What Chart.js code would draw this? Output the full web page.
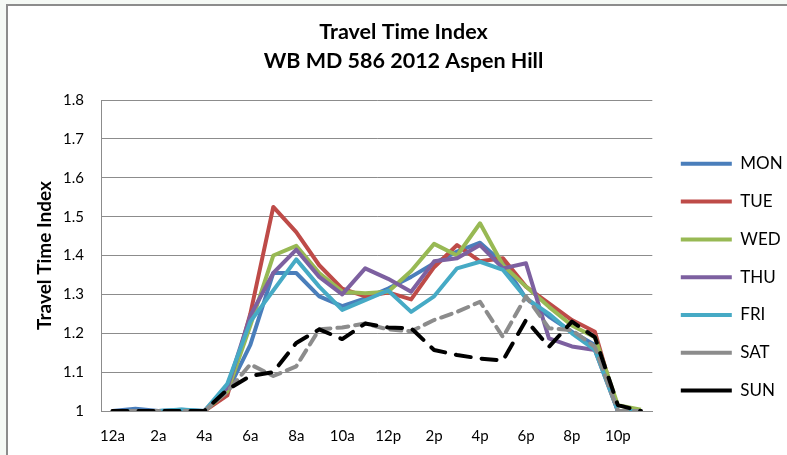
<!DOCTYPE html>
<html lang="en">
<head>
    <meta charset="UTF-8">
    <title>Travel Time Index</title>
    <style>
        *{
            margin:0;
            padding:0;
        }
        body{
            width: 787px;
            height: 455px;
            overflow: hidden;
            background: #f5f9f5;
            position: relative;
        }
        .frame{
            position: absolute;
            left: 6px;
            top: 4px;
            width: 900px;
            height: 600px;
            background: white;
            border-top: 2px solid #8c8c8c;
            border-left: 2px solid #8c8c8c;
        }
        #ttiChart{
            position: absolute;
            left: 0;
            top: 0;
        }
    </style>
</head>
<body>
    <div class="frame"></div>
    <canvas id="ttiChart" width="804" height="455"></canvas>
    <script src="https://cdn.jsdelivr.net/npm/chart.js@4.4.1/dist/chart.umd.min.js"></script>
    <script>
        const hours = ['12a','1a','2a','3a','4a','5a','6a','7a','8a','9a','10a','11a',
                       '12p','1p','2p','3p','4p','5p','6p','7p','8p','9p','10p','11p'];
        const days = ['MON', 'TUE', 'WED', 'THU', 'FRI', 'SAT', 'SUN'];

        const mon = [1.0, 1.006, 1.0, 1.003, 1.0, 1.05, 1.17, 1.355, 1.355, 1.295, 1.27, 1.29,
                     1.315, 1.345, 1.38, 1.41, 1.433, 1.38, 1.29, 1.243, 1.204, 1.17, 1.0, 1.0];
        const tue = [1.0, 1.0, 1.0, 1.0, 1.0, 1.04, 1.25, 1.525, 1.46, 1.375, 1.315, 1.295,
                     1.305, 1.287, 1.37, 1.427, 1.385, 1.393, 1.32, 1.277, 1.234, 1.204, 1.0, 1.0];
        const wed = [1.0, 1.0, 1.0, 1.0, 1.0, 1.05, 1.22, 1.40, 1.425, 1.355, 1.307, 1.303,
                     1.307, 1.36, 1.43, 1.40, 1.483, 1.375, 1.32, 1.268, 1.22, 1.19, 1.015, 1.003];
        const thu = [1.0, 1.0, 1.0, 1.0, 1.0, 1.06, 1.245, 1.355, 1.415, 1.345, 1.30, 1.367,
                     1.34, 1.307, 1.385, 1.393, 1.427, 1.367, 1.38, 1.187, 1.166, 1.157, 1.0, 1.0];
        const fri = [1.0, 1.0, 1.0, 1.004, 1.0, 1.07, 1.23, 1.31, 1.39, 1.32, 1.26, 1.285,
                     1.31, 1.255, 1.295, 1.367, 1.384, 1.363, 1.29, 1.25, 1.20, 1.157, 1.0, 1.0];
        const sat = [1.0, 1.0, 1.0, 1.0, 1.0, 1.05, 1.12, 1.09, 1.115, 1.21, 1.215, 1.225,
                     1.21, 1.205, 1.234, 1.255, 1.281, 1.19, 1.295, 1.213, 1.208, 1.165, 1.0, 1.0];
        const sun = [1.0, 1.0, 1.0, 1.0, 1.0, 1.055, 1.09, 1.10, 1.175, 1.21, 1.185, 1.225,
                     1.215, 1.213, 1.157, 1.144, 1.135, 1.13, 1.234, 1.165, 1.23, 1.19, 1.015, 1.0];

        const series = [mon, tue, wed, thu, fri, sat, sun];
        const colors = ['#4a7ebb', '#be4b48', '#98b954', '#7d60a0', '#46aac5', '#8c8c8c', '#000000'];
        const dashes = [[], [], [], [], [], [11, 7], [15, 11]];

        const font = "Lato, 'Open Sans', sans-serif";

        // move the legend box to where the original sits
        const legendPlace = {
            id: 'legendPlace',
            afterLayout(chart){
                const l = chart.legend;
                const w = l.right - l.left, h = l.bottom - l.top;
                l.left = 660; l.right = l.left + w;
                l.top = 134.5; l.bottom = l.top + h;
            }
        };

        const ctx = document.getElementById('ttiChart').getContext('2d');
        const chart = new Chart(ctx, {
            type: 'line',
            data: {
                labels: hours,
                datasets: days.map((d, i) => ({
                    label: d,
                    data: series[i],
                    borderColor: colors[i],
                    backgroundColor: colors[i],
                    borderWidth: 4,
                    borderDash: dashes[i],
                    borderCapStyle: dashes[i].length ? 'round' : 'butt',
                    borderJoinStyle: 'round',
                    pointRadius: 0,
                    tension: 0,
                    order: 7 - i,
                }))
            },
            options: {
                responsive: false,
                animation: false,
                layout: {padding: {left: 22, right: 19, top: 0, bottom: 0}},
                plugins: {
                    title: {
                        display: true,
                        text: ['Travel Time Index', 'WB MD 586 2012 Aspen Hill'],
                        color: '#000',
                        font: {family: font, size: 21.5, weight: 'bold', lineHeight: 1.35},
                        padding: {top: 17.5, bottom: 24.5},
                    },
                    legend: {
                        position: 'right',
                        align: 'start',
                        labels: {
                            usePointStyle: true,
                            pointStyle: 'line',
                            pointStyleWidth: 51,
                            padding: 20.8,
                            color: '#000',
                            font: {family: font, size: 17},
                            sort: (a, b) => a.datasetIndex - b.datasetIndex,
                        }
                    },
                    tooltip: {enabled: false},
                },
                scales: {
                    x: {
                        offset: true,
                        grid: {display: false, drawTicks: false},
                        border: {color: '#8c8c8c'},
                        ticks: {
                            autoSkip: false,
                            maxRotation: 0,
                            padding: 16,
                            color: '#000',
                            font: {family: font, size: 15},
                            callback: (v, i) => i % 2 === 0 ? hours[i] : '',
                        },
                        afterFit: s => { s.height = 44; },
                    },
                    y: {
                        min: 1,
                        max: 1.8,
                        grid: {color: '#8c8c8c', drawTicks: false},
                        border: {color: '#8c8c8c'},
                        ticks: {
                            stepSize: 0.1,
                            padding: 17,
                            color: '#000',
                            font: {family: font, size: 15},
                            callback: v => String(Number(v.toFixed(1))),
                        },
                        title: {
                            display: true,
                            text: 'Travel Time Index',
                            color: '#000',
                            font: {family: font, size: 19, weight: 'bold', lineHeight: 1.2},
                            padding: {top: 11, bottom: 0},
                        },
                        afterFit: s => { s.width = 79; },
                    }
                }
            },
            plugins: [legendPlace]
        });
    </script>
</body>
</html>
